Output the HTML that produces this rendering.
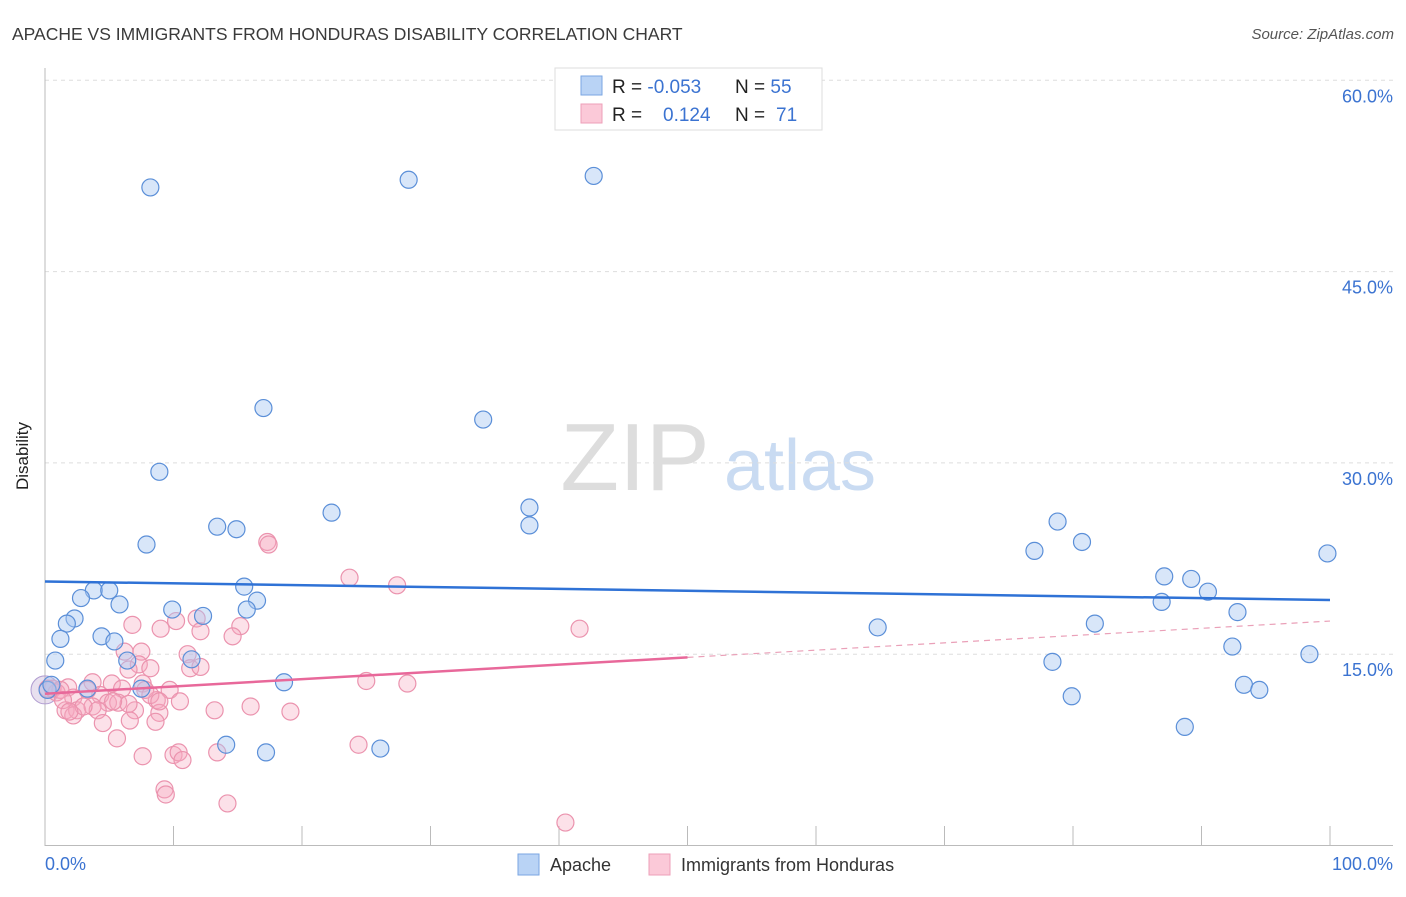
<!DOCTYPE html>
<html><head><meta charset="utf-8"><style>
body{margin:0;background:#fff;font-family:"Liberation Sans",sans-serif}
svg text{font-family:"Liberation Sans",sans-serif}
</style></head><body>
<svg id="chart" width="1406" height="892">
<text x="12" y="40" font-size="17.5" fill="#3a3a3a">APACHE VS IMMIGRANTS FROM HONDURAS DISABILITY CORRELATION CHART</text>
<text x="1394" y="39" font-size="15" fill="#555" font-style="italic" text-anchor="end">Source: ZipAtlas.com</text>
<text x="28" y="456" font-size="17" fill="#222" text-anchor="middle" transform="rotate(-90 28 456)">Disability</text>
<g><text x="635" y="490" font-size="96" fill="#ddd" text-anchor="middle" font-family="Liberation Serif,serif">ZIP</text><text x="800" y="490" font-size="72" fill="#c9dbf2" text-anchor="middle">atlas</text></g>
<g id="grid"></g><g id="axes"></g><g id="marks"></g>
<g>
<rect x="555" y="68" width="267" height="62" fill="#fff" stroke="#ddd"/>
<rect x="581" y="76" width="21" height="19" fill="#b9d3f5" stroke="#7aa6e2"/>
<rect x="581" y="104" width="21" height="19" fill="#fbc9d8" stroke="#ee9fb8"/>
<text x="612" y="93" font-size="19" fill="#222">R = <tspan fill="#3b73d1">-0.053</tspan>  <tspan x="735">N = </tspan><tspan fill="#3b73d1">55</tspan></text>
<text x="612" y="121" font-size="19" fill="#222">R = <tspan x="663" fill="#3b73d1">0.124</tspan><tspan x="735">N = </tspan><tspan x="776" fill="#3b73d1">71</tspan></text>
</g>
<g>
<rect x="518" y="854" width="21" height="21" fill="#b9d3f5" stroke="#7aa6e2"/>
<text x="550" y="871" font-size="18" fill="#333">Apache</text>
<rect x="649" y="854" width="21" height="21" fill="#fbc9d8" stroke="#ee9fb8"/>
<text x="681" y="871" font-size="18" fill="#333">Immigrants from Honduras</text>
</g>
</svg>
<script>
const yTicks=[15,30,45,60];
const yTickLabels=["15.0%","30.0%","45.0%","60.0%"];
const apacheX=[8.2,28.3,42.7,17.0,34.1,8.9,37.7,37.7,22.3,13.4,14.9,7.9,15.5,16.5,15.7,3.8,5.0,2.8,5.8,9.9,12.3,2.3,1.7,1.2,4.4,5.4,0.8,6.4,11.4,7.5,3.3,18.6,14.1,17.2,26.1,64.8,77.0,78.8,80.7,81.7,78.4,79.9,87.1,89.2,90.5,86.9,92.8,92.4,93.3,94.5,88.7,98.4,99.8,0.2,0.5];
const apacheY=[51.6,52.2,52.5,34.3,33.4,29.3,26.5,25.1,26.1,25.0,24.8,23.6,20.3,19.2,18.5,20.0,20.0,19.4,18.9,18.5,18.0,17.8,17.4,16.2,16.4,16.0,14.5,14.5,14.6,12.3,12.3,12.8,7.9,7.3,7.6,17.1,23.1,25.4,23.8,17.4,14.4,11.7,21.1,20.9,19.9,19.1,18.3,15.6,12.6,12.2,9.3,15.0,22.9,12.2,12.6];
const hondX=[6.8,9.0,10.2,11.8,12.1,15.2,14.6,6.2,7.5,7.3,6.5,8.2,11.1,11.3,12.1,0.6,1.8,3.7,5.2,6.0,7.6,2.2,4.3,4.9,5.7,1.6,2.5,2.2,3.7,4.1,8.7,8.9,7.0,8.6,4.5,5.6,13.2,16.0,19.1,7.6,10.0,10.4,10.7,13.4,9.3,9.4,14.2,17.3,17.4,23.7,27.4,41.6,25.0,28.2,24.4,40.5,0.9,1.2,0.2,1.4,3.0,1.9,6.5,7.8,9.7,10.5,3.3,5.3,6.6,8.2,8.9];
const hondY=[17.3,17.0,17.6,17.8,16.8,17.2,16.4,15.2,15.2,14.2,13.8,13.9,15.0,13.9,14.0,12.3,12.4,12.8,12.7,12.3,12.7,11.6,11.8,11.2,11.2,10.6,10.6,10.2,10.9,10.6,11.4,10.4,10.6,9.7,9.6,8.4,10.6,10.9,10.5,7.0,7.1,7.3,6.7,7.3,4.4,4.0,3.3,23.8,23.6,21.0,20.4,17.0,12.9,12.7,7.9,1.8,12.0,12.2,12.3,11.4,10.9,10.5,11.1,12.2,12.2,11.3,12.2,11.3,9.8,11.8,11.3];
const apacheTrend=[20.7,19.25];
const hondTrend=[11.9,17.6];
const hondSolidEnd=50;
const NS="http://www.w3.org/2000/svg";
const X=v=>45+v*12.85;
const Y=v=>845.5-v*191.3/15;
function mk(tag,attrs,parent){const e=document.createElementNS(NS,tag);for(const k in attrs)e.setAttribute(k,attrs[k]);document.getElementById(parent).appendChild(e);return e;}
yTicks.forEach((t,i)=>{
 const l=mk('line',{x1:45,x2:1393,y1:Y(t),y2:Y(t),stroke:'#ddd','stroke-dasharray':'4,4'},'grid');
 
 
 const tx=mk('text',{x:1393,y:Y(t)+22,'font-size':18,fill:'#3b73d1','text-anchor':'end'},'grid');
 tx.textContent=yTickLabels[i];
 
 
});
const ya=mk('line',{x1:45,x2:45,y1:68,y2:846,stroke:'#bbb'},'axes');


const xa=mk('line',{x1:45,x2:1393,y1:845.5,y2:845.5,stroke:'#bbb'},'axes');


for(let i=1;i<=10;i++){const t=mk('line',{x1:X(i*10),x2:X(i*10),y1:826,y2:845,stroke:'#bbb'},'axes');
 
 }
const x0=mk('text',{x:45,y:870,'font-size':18,fill:'#3b73d1'},'axes');x0.textContent='0.0%';


const x1=mk('text',{x:1393,y:870,'font-size':18,fill:'#3b73d1','text-anchor':'end'},'axes');x1.textContent='100.0%';


const big=mk('circle',{cx:X(0),cy:Y(12.2),r:14,fill:'rgba(190,165,210,0.35)',stroke:'#b09cd0'},'marks');


hondX.forEach((v,i)=>{const c=mk('circle',{cx:X(v),cy:Y(hondY[i]),r:8.5,fill:'rgba(246,168,192,0.35)',stroke:'#eb93ae','stroke-width':1.2},'marks');
 
 });
apacheX.forEach((v,i)=>{const c=mk('circle',{cx:X(v),cy:Y(apacheY[i]),r:8.5,fill:'rgba(168,200,242,0.45)',stroke:'#5b8fd8','stroke-width':1.2},'marks');
 
 });
const at=mk('line',{x1:X(0),y1:Y(apacheTrend[0]),x2:X(100),y2:Y(apacheTrend[1]),stroke:'#2f72d6','stroke-width':2.5},'marks');


const hm=hondTrend[0]+(hondTrend[1]-hondTrend[0])*hondSolidEnd/100;
const ht=mk('line',{x1:X(0),y1:Y(hondTrend[0]),x2:X(hondSolidEnd),y2:Y(hm),stroke:'#e8689a','stroke-width':2.5},'marks');


const hd=mk('line',{x1:X(hondSolidEnd),y1:Y(hm),x2:X(100),y2:Y(hondTrend[1]),stroke:'#eaa0b8','stroke-width':1.2,'stroke-dasharray':'6,5'},'marks');


</script>
</body></html>
